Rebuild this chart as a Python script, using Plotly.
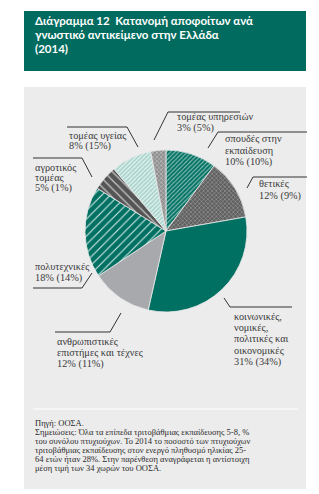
import plotly.graph_objects as go

W, H = 319, 494

# ---- data ----
categories = ["σπουδές στην εκπαίδευση", "θετικές",
              "κοινωνικές, νομικές, πολιτικές και οικονομικές",
              "ανθρωπιστικές επιστήμες και τέχνες", "πολυτεχνικές",
              "αγροτικός τομέας", "τομέας υγείας", "τομέας υπηρεσιών"]
greece = [10, 12, 31, 12, 18, 5, 8, 3]
oecd = [10, 9, 34, 11, 14, 1, 15, 5]
label_lines = [["σπουδές στην", "εκπαίδευση"], ["θετικές"],
               ["κοινωνικές,", "νομικές,", "πολιτικές και", "οικονομικές"],
               ["ανθρωπιστικές", "επιστήμες και τέχνες"], ["πολυτεχνικές"],
               ["αγροτικός", "τομέας"], ["τομέας υγείας"], ["τομέας υπηρεσιών"]]
title_lines = ["Διάγραμμα 12  Κατανομή αποφοίτων ανά",
               "γνωστικό αντικείμενο στην Ελλάδα", "(2014)"]
footer_lines = ["Πηγή: ΟΟΣΑ.",
                "Σημειώσεις: Όλα τα επίπεδα τριτοβάθμιας εκπαίδευσης 5-8, %",
                "του συνόλου πτυχιούχων. Το 2014 το ποσοστό των πτυχιούχων",
                "τριτοβάθμιας εκπαίδευσης στον ενεργό πληθυσμό ηλικίας 25-",
                "64 ετών ήταν 28%. Στην παρένθεση αναγράφεται η αντίστοιχη",
                "μέση τιμή των 34 χωρών του ΟΟΣΑ."]

TEAL = "#007062"
bg = [TEAL, "#5e5e5e", TEAL, "#a8a9ad", TEAL, "#555555", "#a9d4cc", "#8d8d8d"]
fg = ["#8cc2b8", "#a0a0a0", TEAL, "#a8a9ad", "#d8ece8", "#c8c8c8", "#eef8f6", "#c4c4c4"]
shape = ["/", "x", "", "", "/", "\\", "/", "x"]
psize = [3, 3, 8, 8, 6, 6, 3, 3]
solid = [0.35, 0.35, 0.3, 0.3, 0.18, 0.2, 0.35, 0.4]

def px(x):
    return x / W

def py(y):
    return 1 - y / H

cx, cy, r = 166, 231, 81

fig = go.Figure(go.Pie(
    labels=categories, values=greece, sort=False, direction="clockwise",
    textinfo="none", hoverinfo="label+value",
    marker=dict(colors=bg, line=dict(color="#e8e8e8", width=0.8),
                pattern=dict(shape=shape, fgcolor=fg, bgcolor=bg,
                             size=psize, solidity=solid, fillmode="replace")),
    domain=dict(x=[px(cx - r), px(cx + r)], y=[py(cy + r), py(cy - r)]),
    showlegend=False,
))

shapes = [
    dict(type="rect", xref="paper", yref="paper", x0=px(24), x1=px(306),
         y0=py(71), y1=py(11), fillcolor="#006b5e", line=dict(width=0), layer="below"),
    dict(type="rect", xref="paper", yref="paper", x0=px(24), x1=px(306),
         y0=py(489), y1=py(87), fillcolor="#ececec", line=dict(width=0), layer="below"),
    dict(type="line", xref="paper", yref="paper", x0=px(33), x1=px(298),
         y0=py(409), y1=py(409), line=dict(color="white", width=1.2)),
]

# leader lines: polyline points per category (pixel coords)
leaders = [
    [(208, 148), (218, 132), (307, 132)],
    [(247, 188), (253, 177), (307, 177)],
    [(224, 298), (230, 307), (292, 307)],
    [(121, 313), (110, 332), (55, 332)],
    [(92, 273), (82, 288), (33, 288)],
    [(92, 177), (82, 158), (33, 158)],
    [(138, 147), (127, 127), (67, 127)],
    [(154, 140), (168, 112), (240, 112)],
]
for pts in leaders:
    for (x0, y0), (x1, y1) in zip(pts[:-1], pts[1:]):
        shapes.append(dict(type="line", xref="paper", yref="paper",
                           x0=px(x0), y0=py(y0), x1=px(x1), y1=py(y1),
                           line=dict(color="#333333", width=1)))

# label positions: (x, first line y, line spacing)
label_pos = [(223, 139, 11.5), (257, 184, 11.5), (232, 316, 11.4), (55, 341, 11.5),
             (33, 266, 11.5), (33, 167, 10.5), (67, 135, 11.3), (175, 116, 11.5)]

annotations = []
for i, (x, y0, dy) in enumerate(label_pos):
    lines = label_lines[i] + [f"{greece[i]}% ({oecd[i]}%)"]
    for j, t in enumerate(lines):
        annotations.append(dict(text=t, x=px(x), y=py(y0 + j * dy), xref="paper", yref="paper",
                                xanchor="left", yanchor="middle", showarrow=False,
                                font=dict(family="Liberation Serif", size=10.3, color="#3a3a3a")))

for j, t in enumerate(title_lines):
    annotations.append(dict(text=t, x=px(33), y=py(20.8 + j * 13.6), xref="paper", yref="paper",
                            xanchor="left", yanchor="middle", showarrow=False,
                            font=dict(family="Lato", size=11.5, color="white", weight="bold")))

footer_y = [423.3, 432.3, 441.1, 449.9, 458.7, 467.5]
for t, y in zip(footer_lines, footer_y):
    annotations.append(dict(text=t, x=px(33), y=py(y), xref="paper", yref="paper",
                            xanchor="left", yanchor="middle", showarrow=False,
                            font=dict(family="Liberation Serif", size=8.5, color="#2a2a2a")))

fig.update_layout(width=W, height=H, margin=dict(l=0, r=0, t=0, b=0),
                  paper_bgcolor="white", plot_bgcolor="white",
                  shapes=shapes, annotations=annotations)

fig.write_html("out.html", config={"displayModeBar": False})
